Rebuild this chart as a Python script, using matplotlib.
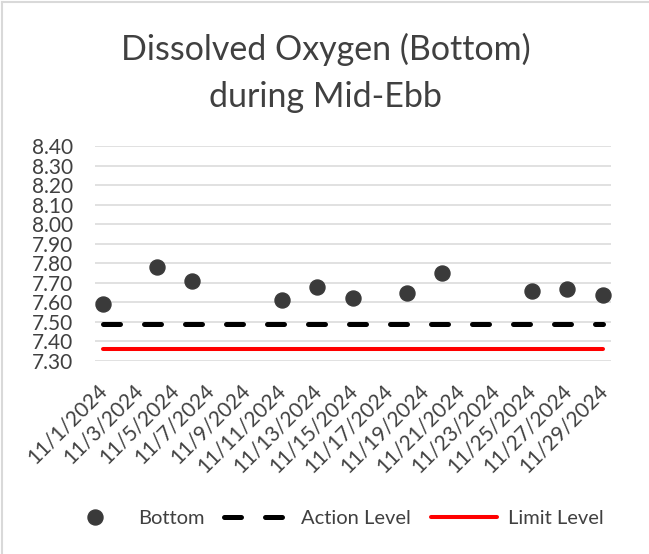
import matplotlib
matplotlib.use('Agg')
import matplotlib.pyplot as plt
import matplotlib.transforms as mtransforms
import pandas as pd
from matplotlib.lines import Line2D

# Данные
sample_dates = ['2024-11-01', '2024-11-04', '2024-11-06', '2024-11-11', '2024-11-13',
                '2024-11-15', '2024-11-18', '2024-11-20', '2024-11-25', '2024-11-27',
                '2024-11-29']
do_bottom = [7.59, 7.78, 7.71, 7.61, 7.68, 7.62, 7.65, 7.75, 7.66, 7.67, 7.64]
level_dates = ['2024-11-01', '2024-11-29']
action_level = [7.49, 7.49]
limit_level = [7.36, 7.36]
y_ticks = [7.30, 7.40, 7.50, 7.60, 7.70, 7.80, 7.90, 8.00, 8.10, 8.20, 8.30, 8.40]

text_color = '#404040'
plt.rcParams['font.family'] = ['Lato', 'DejaVu Sans']

dates = pd.to_datetime(sample_dates)
lvl_dates = pd.to_datetime(level_dates)
tick_dates = pd.date_range(lvl_dates[0], lvl_dates[1], freq='2D')

fig = plt.figure(figsize=(6.49, 5.54), dpi=100)
ax = fig.add_axes([95 / 649, 1 - 361 / 554, (611 - 95) / 649, (361 - 146) / 554])

ax.plot(dates, do_bottom, linestyle='none', marker='o', markersize=10.8,
        color='#3a3a3a', label='Bottom', zorder=4)
ax.plot(lvl_dates, action_level, color='black', linewidth=3.6,
        linestyle=(0, (3.4, 4.8)), dash_capstyle='round', label='Action Level', zorder=3)
ax.plot(lvl_dates, limit_level, color='#ff0000', linewidth=2.9,
        solid_capstyle='round', label='Limit Level', zorder=3)

pad = pd.Timedelta(hours=10.8)
ax.set_xlim(lvl_dates[0] - pad, lvl_dates[1] + pad)
ax.set_ylim(7.30, 8.40)
ax.set_yticks(y_ticks)
ax.set_yticklabels([f'{v:.2f}' for v in y_ticks])
ax.set_xticks(tick_dates)
ax.set_xticklabels([f'{d.month}/{d.day}/{d.year}' for d in tick_dates],
                   rotation=45, ha='right', va='top', rotation_mode='anchor')

ax.grid(True, axis='y', color='#d9d9d9', linewidth=1.1)
ax.set_axisbelow(True)
for s in ax.spines.values():
    s.set_visible(False)
ax.tick_params(axis='both', length=0, labelsize=15, colors=text_color)
ax.tick_params(axis='y', pad=16)
ax.tick_params(axis='x', pad=14)

# сдвиг подписей дат немного влево, как в Excel
shift = mtransforms.ScaledTranslation(-6 / 100, 0, fig.dpi_scale_trans)
for lbl in ax.get_xticklabels():
    lbl.set_transform(lbl.get_transform() + shift)

fig.text(0.502, 1 - 60 / 554, 'Dissolved Oxygen (Bottom)', ha='center', va='baseline',
         fontsize=24.5, color=text_color)
fig.text(0.502, 1 - 107 / 554, 'during Mid-Ebb', ha='center', va='baseline',
         fontsize=24.5, color=text_color)

fig.legend(loc='center', bbox_to_anchor=(0.512, 1 - 518 / 554), ncol=3, frameon=False,
           fontsize=14.5, labelcolor=text_color, handlelength=3.3, handletextpad=0.5,
           columnspacing=1.0)

# Рамка диаграммы (видны только верх и левая сторона)
fig.add_artist(Line2D([2 / 649, 2 / 649], [0, 1 - 2 / 554], color='#d9d9d9', linewidth=1.5))
fig.add_artist(Line2D([2 / 649, 1], [1 - 2 / 554, 1 - 2 / 554], color='#d9d9d9', linewidth=1.5))

fig.savefig('out.png', dpi=100, facecolor='white')
